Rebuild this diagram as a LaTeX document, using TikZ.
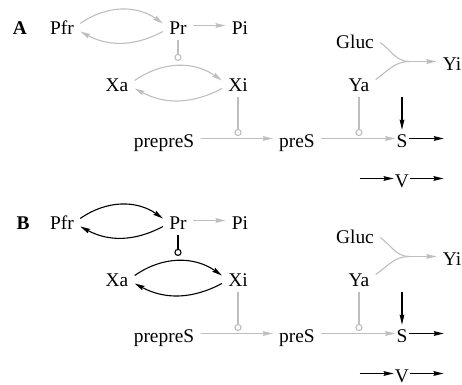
\documentclass[tikz,border=0pt]{standalone}
\usepackage{fontspec}
\setmainfont{Liberation Serif}
\usetikzlibrary{arrows.meta}
\definecolor{faint}{HTML}{BEBEBE}

\begin{document}
\begin{tikzpicture}[
  x=0.5pt, y=-0.5pt,
  font=\fontsize{9.7}{12}\selectfont,
  sp/.style={anchor=base, inner xsep=3pt, inner ysep=2.5pt, text height=9.5pt, text depth=0pt},
  tight/.style={sp, inner xsep=0.5pt},
  act/.style={line width=0.55pt, -{Stealth[length=5pt, width=2.4pt, inset=0.6pt]}},
  inh/.style={line width=0.55pt, -{Circle[open, length=3.6pt]}}
]
\useasboundingbox (0,0) rectangle (462,385);

\foreach \lab/\dy/\lx/\ink in {A/0/20/faint, B/195/23/black} {
\begin{scope}[shift={(0,\dy)}]
% species
\node[sp] (lab\lab) at (\lx,35) {\textbf{\lab}};
\node[sp] (pfr\lab) at (62,35) {Pfr};
\node[sp] (pr\lab) at (178,35) {Pr};
\node[sp] (pi\lab) at (240,35) {Pi};
\node[sp] (xa\lab) at (117,92) {Xa};
\node[sp] (xi\lab) at (238,92) {Xi};
\node[sp] (gluc\lab) at (355,49) {Gluc};
\node[sp] (yi\lab) at (452,71) {Yi};
\node[sp] (ya\lab) at (359,92) {Ya};
\node[sp] (pps\lab) at (164,148) {prepreS};
\node[sp] (ps\lab) at (297,148) {preS};
\node[tight] (s\lab) at (402,148) {S};
\node[tight] (v\lab) at (402,188) {V};

\coordinate (prtip\lab) at (178,61);
\coordinate (xitip\lab) at ([yshift=1.2pt]xi\lab |- pps\lab);
\coordinate (yatip\lab) at ([yshift=1.2pt]ya\lab |- ps\lab);
\coordinate (join\lab) at ([xshift=-13.5pt]yi\lab.west);
\coordinate (sin\lab) at ([yshift=13.5pt]s\lab.north);
\coordinate (sout\lab) at ([xshift=17.5pt]s\lab.east);
\coordinate (vin\lab) at ([xshift=-17pt]v\lab.west);
\coordinate (vout\lab) at ([xshift=16.5pt]v\lab.east);

% light switch loops
\draw[\ink, act] ([yshift=1pt]pfr\lab.east) to[bend left=35] ([yshift=1pt]pr\lab.west);
\draw[\ink, act] ([yshift=-3pt]pr\lab.west) to[bend left=28] ([yshift=-3pt]pfr\lab.east);
\draw[\ink, act] ([yshift=1pt]xa\lab.east) to[bend left=35] ([yshift=1pt]xi\lab.west);
\draw[\ink, act] ([yshift=-3pt]xi\lab.west) to[bend left=28] ([yshift=-3pt]xa\lab.east);
\draw[\ink, inh] (pr\lab.south) -- (prtip\lab);

% rest of the chain
\draw[faint, act] (pr\lab) -- (pi\lab);
\draw[faint, inh] (xi\lab.south) -- (xitip\lab);
\draw[faint, inh] (ya\lab.south) -- (yatip\lab);
\draw[faint, act] (pps\lab) -- (ps\lab);
\draw[faint, act] (ps\lab) -- (s\lab);
\draw[faint, line width=0.55pt] ([yshift=-1.5pt]gluc\lab.east) to[out=-35, in=180] (join\lab);
\draw[faint, line width=0.55pt] ([yshift=1.5pt]ya\lab.east) to[out=35, in=180] (join\lab);
\draw[faint, act] (join\lab) -- (yi\lab);
\draw[act, shorten >=-3pt] (sin\lab) -- (s\lab.north);
\draw[act] (s\lab) -- (sout\lab);
\draw[act] (vin\lab) -- (v\lab);
\draw[act] (v\lab) -- (vout\lab);
\end{scope}
}
\end{tikzpicture}
\end{document}
